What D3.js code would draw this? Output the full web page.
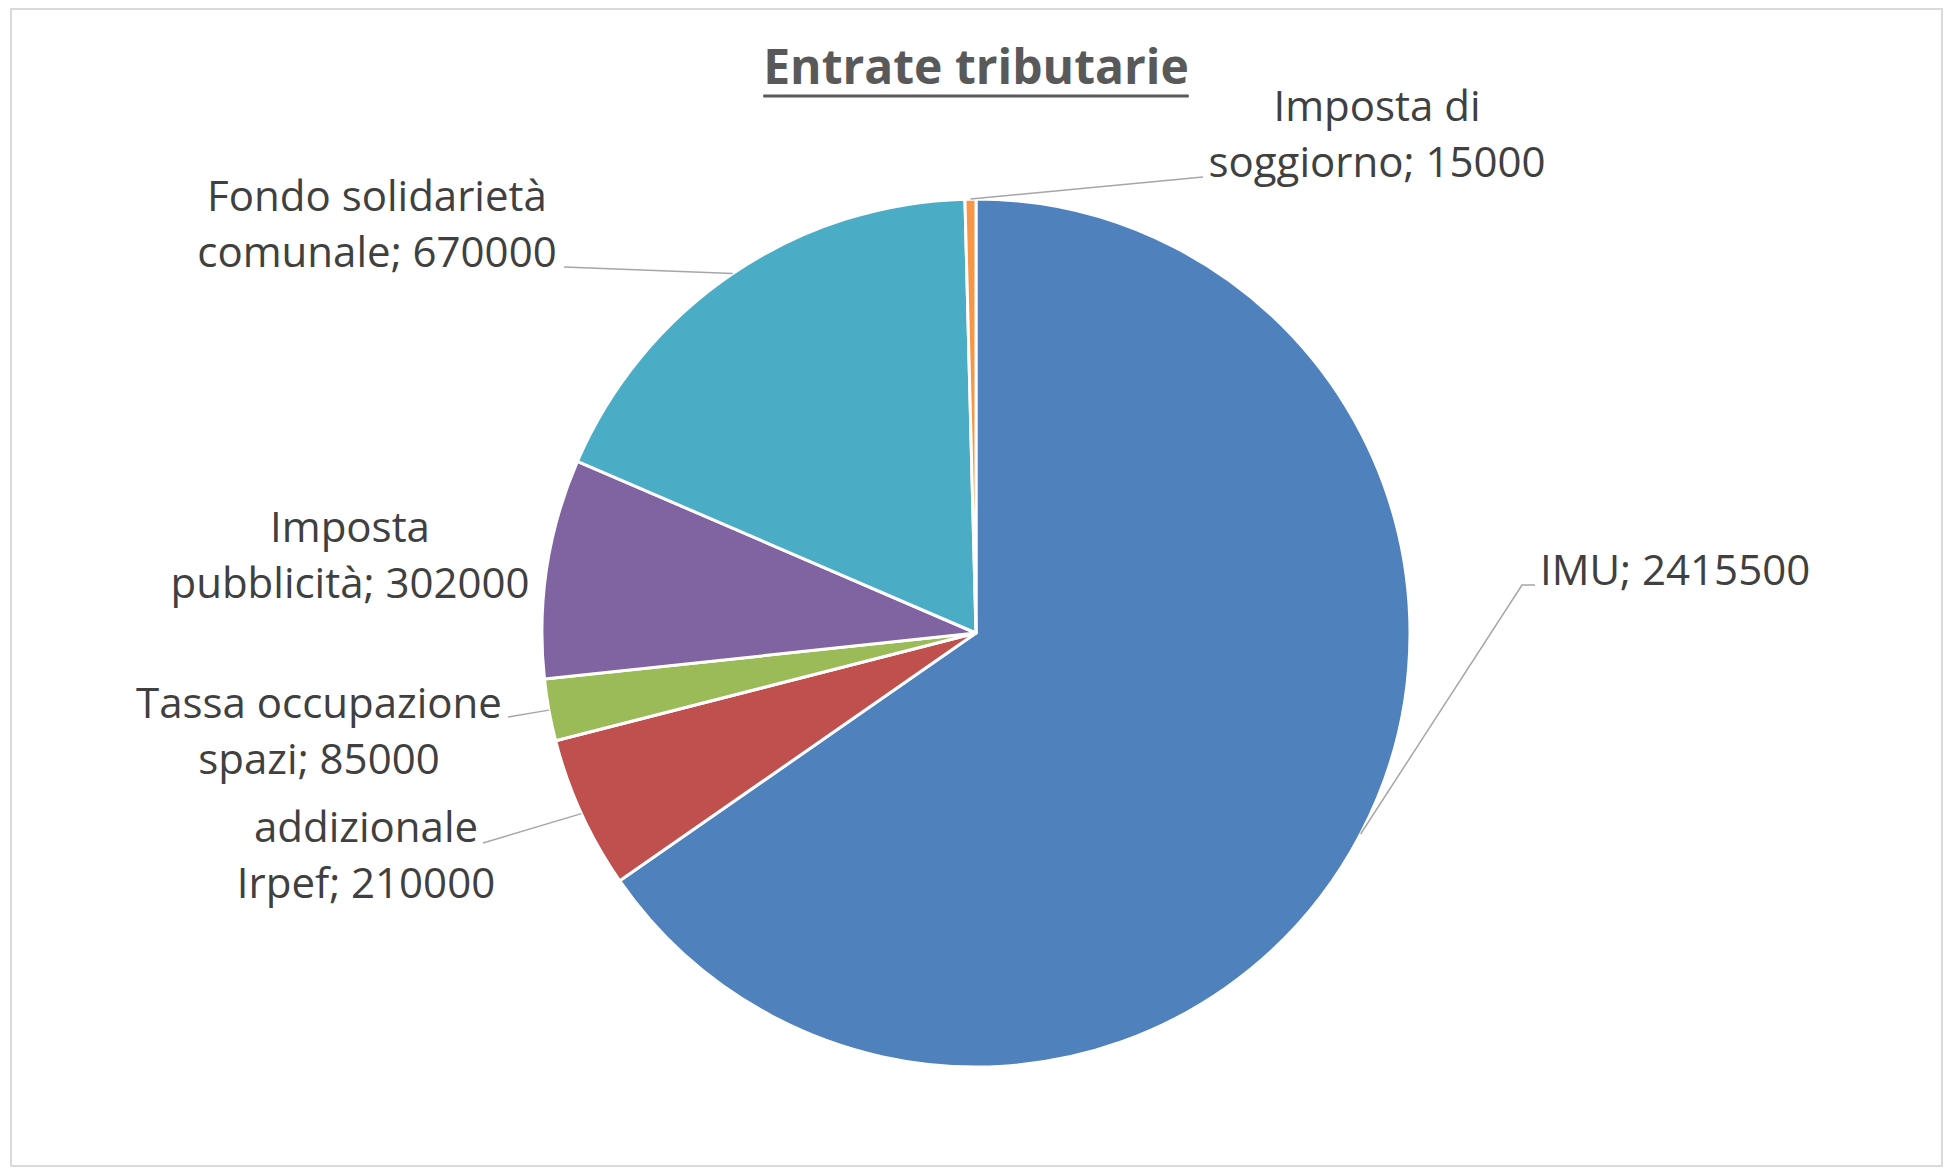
<!DOCTYPE html>
<html>
<head>
<meta charset="utf-8">
<script src="https://cdn.jsdelivr.net/npm/d3@7"></script>
<style>
  html, body { margin: 0; padding: 0; background: #ffffff; }
  svg { display: block; }
</style>
</head>
<body>
<svg id="chart" width="1945" height="1170"></svg>
<script>
// Entrate tributarie — tax revenue by source
const categories = ["IMU", "addizionale Irpef", "Tassa occupazione spazi", "Imposta pubblicità", "Fondo solidarietà comunale", "Imposta di soggiorno"];
const values = [2415500, 210000, 85000, 302000, 670000, 15000];
const colors = ["#4F81BD", "#C0504D", "#9BBB59", "#8064A2", "#4BACC6", "#F79646"];
// how each category name wraps inside its label
const nameLines = [["IMU"], ["addizionale", "Irpef"], ["Tassa occupazione", "spazi"], ["Imposta", "pubblicità"], ["Fondo solidarietà", "comunale"], ["Imposta di", "soggiorno"]];

const W = 1945, H = 1170;
const cx = 976, cy = 633, R = 434;
const lineH = 56;

// label placement: anchor point of the first baseline and elbow points of the leader
const labelLayout = [
  { x: 1540, y: 585, anchor: "start", leader: [[1535, 585], [1522, 585]] },
  { x: 366, y: 842, anchor: "middle", leader: [[483, 843]] },
  { x: 319, y: 718, anchor: "middle", leader: [[508, 717]] },
  { x: 350, y: 542, anchor: "middle", leader: null },
  { x: 377, y: 211, anchor: "middle", leader: [[564, 267]] },
  { x: 1377, y: 121, anchor: "middle", leader: [[1203, 177]] }
];

const data = categories.map((c, i) => ({ category: c, value: values[i], color: colors[i], lines: nameLines[i], layout: labelLayout[i] }));

const svg = d3.select("#chart");

// chart area frame
svg.append("rect")
  .attr("x", 11).attr("y", 9)
  .attr("width", 1931).attr("height", 1157)
  .attr("fill", "#ffffff")
  .attr("stroke", "#D9D9D9")
  .attr("stroke-width", 2);

// title
const title = svg.append("text")
  .attr("x", cx).attr("y", 84)
  .attr("text-anchor", "middle")
  .attr("font-family", "'Open Sans', sans-serif")
  .attr("font-weight", 700)
  .attr("font-size", 48)
  .attr("fill", "#595959")
  .text("Entrate tributarie");
const tb = title.node().getBBox();
svg.append("line")
  .attr("x1", tb.x).attr("x2", tb.x + tb.width)
  .attr("y1", 96).attr("y2", 96)
  .attr("stroke", "#595959").attr("stroke-width", 3);

const pie = d3.pie().value(d => d.value).sort(null).startAngle(0).endAngle(2 * Math.PI);
const arcs = pie(data);
const arc = d3.arc().innerRadius(0).outerRadius(R);
const edge = d3.arc().innerRadius(R).outerRadius(R);

const g = svg.append("g").attr("transform", `translate(${cx},${cy})`);
g.selectAll("path.slice")
  .data(arcs)
  .join("path")
  .attr("class", "slice")
  .attr("d", arc)
  .attr("fill", d => d.data.color)
  .attr("stroke", "#ffffff")
  .attr("stroke-width", 3)
  .attr("stroke-linejoin", "round");

// leader lines from the label to the middle of each slice's rim
const line = d3.line();
svg.append("g").selectAll("path.leader")
  .data(arcs.filter(d => d.data.layout.leader))
  .join("path")
  .attr("class", "leader")
  .attr("d", d => {
    const [ex, ey] = edge.centroid(d);
    return line([...d.data.layout.leader, [cx + ex, cy + ey]]);
  })
  .attr("fill", "none")
  .attr("stroke", "#A6A6A6")
  .attr("stroke-width", 1.5);

// data labels: "category; value"
const labels = svg.append("g").selectAll("text.label")
  .data(arcs)
  .join("text")
  .attr("class", "label")
  .attr("x", d => d.data.layout.x)
  .attr("y", d => d.data.layout.y)
  .attr("text-anchor", d => d.data.layout.anchor)
  .attr("font-family", "'Open Sans', sans-serif")
  .attr("font-size", 42)
  .attr("fill", "#404040");

labels.each(function (d) {
  const t = d3.select(this);
  const ls = d.data.lines;
  ls.forEach((l, i) => {
    const txt = i === ls.length - 1 ? `${l}; ${d.data.value}` : l;
    t.append("tspan")
      .attr("x", d.data.layout.x)
      .attr("dy", i === 0 ? 0 : lineH)
      .text(txt);
  });
});
</script>
</body>
</html>
